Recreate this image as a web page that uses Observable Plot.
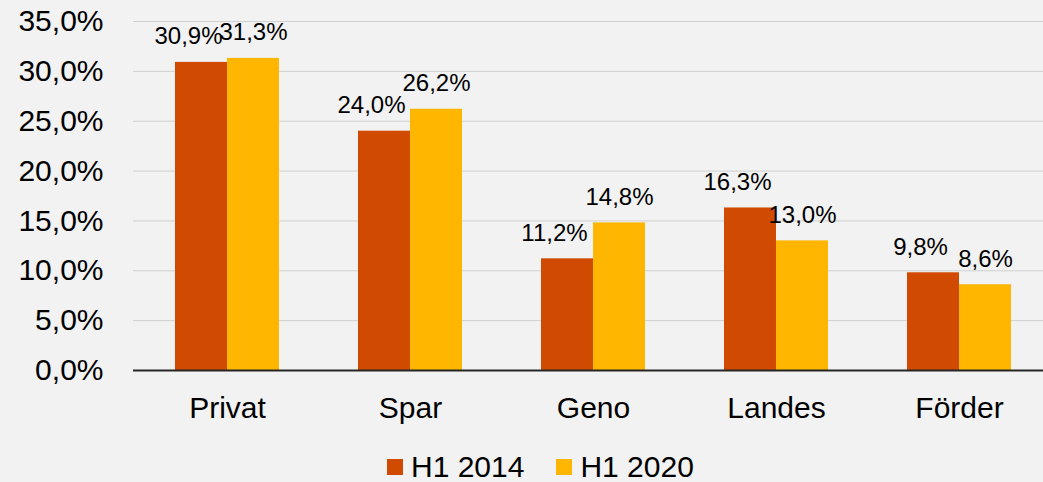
<!DOCTYPE html>
<html>
<head>
<meta charset="utf-8">
<script src="https://cdn.jsdelivr.net/npm/d3@7"></script>
<script src="https://cdn.jsdelivr.net/npm/@observablehq/plot@0.6"></script>
<style>
  html, body { margin: 0; padding: 0; background: #f2f2f2; }
  body { width: 1043px; height: 482px; overflow: hidden; font-family: "Liberation Sans", Arial, sans-serif; }
  #chart svg { display: block; }
  #legend { display: flex; align-items: center; margin-top: 19px; margin-left: 387px; font-size: 30px; line-height: 36px; color: #000; }
  .item { display: flex; align-items: center; margin-right: 32px; }
  .sw { width: 16px; height: 16px; margin-right: 8px; }
</style>
</head>
<body>
<div id="chart"></div>
<div id="legend"></div>
<script>
const categories = ["Privat", "Spar", "Geno", "Landes", "Förder"];
const series = ["H1 2014", "H1 2020"];
const values2014 = [30.9, 24.0, 11.2, 16.3, 9.8];
const values2020 = [31.3, 26.2, 14.8, 13.0, 8.6];
const yTicks = [0, 5, 10, 15, 20, 25, 30, 35];
const colors = ["#d04a02", "#ffb600"];

const W = 1043, H = 430, mL = 133, mR = -9, mT = 21, mB = 60;
const xOpts = {type: "band", domain: categories, paddingInner: 0.434, paddingOuter: 0.217};
const xs = Plot.scale({x: {...xOpts, range: [mL, W - mR]}});
const half = xs.bandwidth / 2;

const d2014 = categories.map((c, i) => ({category: c, series: series[0], value: values2014[i]}));
const d2020 = categories.map((c, i) => ({category: c, series: series[1], value: values2020[i]}));

const fmt = v => v.toFixed(1).replace(".", ",") + "%";

const chart = Plot.plot({
  width: W,
  height: H,
  marginLeft: mL,
  marginRight: mR,
  marginTop: mT,
  marginBottom: mB,
  style: {background: "#f2f2f2", fontFamily: "'Liberation Sans', Arial, sans-serif", fontSize: "30px", color: "#000"},
  x: {...xOpts, label: null, tickSize: 0, tickPadding: 26},
  y: {domain: [0, 35], ticks: yTicks, tickFormat: fmt, label: null, tickSize: 0, tickPadding: 30},
  color: {domain: series, range: colors},
  marks: [
    Plot.ruleY(yTicks.slice(1), {stroke: "#d0d0d0", strokeWidth: 1}),
    Plot.barY(d2014, {x: "category", y: "value", fill: "series", insetRight: half}),
    Plot.barY(d2020, {x: "category", y: "value", fill: "series", insetLeft: half}),
    Plot.text(d2014, {x: "category", y: "value", text: d => fmt(d.value),
      fontSize: 24, fill: "#000", lineAnchor: "bottom", dy: -18, dx: -half / 2 - 13}),
    Plot.text(d2020, {x: "category", y: "value", text: d => fmt(d.value),
      fontSize: 24, fill: "#000", lineAnchor: "bottom", dy: -18, dx: half / 2}),
    Plot.ruleY([0], {stroke: "#262626", strokeWidth: 2})
  ]
});
document.getElementById("chart").appendChild(chart);

const legend = document.getElementById("legend");
series.forEach((s, i) => {
  const item = document.createElement("div");
  item.className = "item";
  const sw = document.createElement("div");
  sw.className = "sw";
  sw.style.background = colors[i];
  const t = document.createElement("span");
  t.textContent = s;
  item.appendChild(sw);
  item.appendChild(t);
  legend.appendChild(item);
});
</script>
</body>
</html>
